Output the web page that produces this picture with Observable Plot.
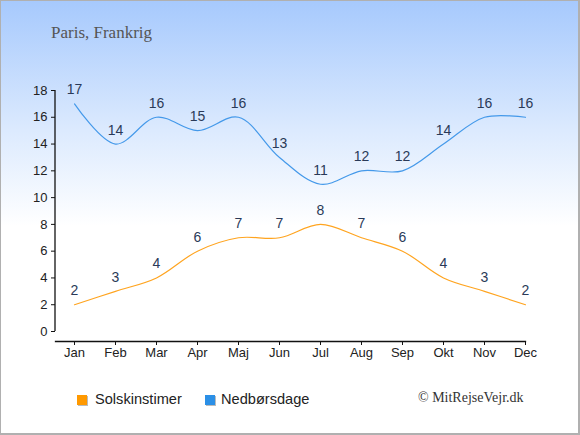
<!DOCTYPE html>
<html>
<head>
<meta charset="utf-8">
<script src="https://cdn.jsdelivr.net/npm/d3@7"></script>
<script src="https://cdn.jsdelivr.net/npm/@observablehq/plot@0.6"></script>
<style>
  html, body { margin: 0; padding: 0; }
  #wrap { position: relative; width: 580px; height: 435px; overflow: hidden;
    background: linear-gradient(to bottom, #a6c9fd 0%, #dceafe 30%, #ffffff 52%, #ffffff 100%);
    font-family: "Liberation Sans", Arial, sans-serif; }
  #border { position: absolute; left: 0; top: 0; width: 580px; height: 435px; box-sizing: border-box;
    border: 1px solid #b0b0b0; border-right-width: 2px; border-bottom-width: 2px; pointer-events: none; }
  #title { position: absolute; left: 51px; top: 23px; font-family: "Liberation Serif", "Times New Roman", serif;
    font-size: 17px; color: #555; white-space: nowrap; }
  #chart { position: absolute; left: 0; top: 0; }
  .leg { position: absolute; top: 389px; font-size: 14.6px; color: #222; white-space: nowrap; line-height: 20px; }
  .sw { display: inline-block; width: 10px; height: 10px; vertical-align: -1px; margin-right: 8px;
    box-shadow: 1px 1px 0 #bbb; }
  #copy { position: absolute; left: 418px; top: 388px; font-family: "Liberation Serif", "Times New Roman", serif;
    font-size: 14px; color: #333; white-space: nowrap; line-height: 20px; }
</style>
</head>
<body>
<div id="wrap">
  <div id="title">Paris, Frankrig</div>
  <div id="chart"></div>
  <div class="leg" id="leg1" style="left:77px"><span class="sw" style="background:#ff9900"></span>Solskinstimer</div>
  <div class="leg" id="leg2" style="left:205px"><span class="sw" style="background:#2b8fe6;margin-right:6px"></span>Nedbørsdage</div>
  <div id="copy">© MitRejseVejr.dk</div>
  <div id="border"></div>
</div>
<script>
const months = ["Jan","Feb","Mar","Apr","Maj","Jun","Jul","Aug","Sep","Okt","Nov","Dec"];
const sunHours = [2,3,4,6,7,7,8,7,6,4,3,2];
const rainDays = [17,14,16,15,16,13,11,12,12,14,16,16];
const yTicks = [0,2,4,6,8,10,12,14,16,18];

const sun = months.map((m, i) => ({month: m, value: sunHours[i]}));
const rain = months.map((m, i) => ({month: m, value: rainDays[i]}));

const yAxisLine = (index, scales, values, dimensions) => {
  const x = dimensions.marginLeft;
  const g = d3.create("svg:line")
    .attr("x1", x).attr("x2", x)
    .attr("y1", scales.y(yTicks[0])).attr("y2", scales.y(yTicks[yTicks.length - 1]))
    .attr("stroke", "#111").attr("stroke-width", 1.3);
  return g.node();
};

const chart = Plot.plot({
  width: 580,
  height: 435,
  marginLeft: 55,
  marginRight: 55,
  marginTop: 90,
  marginBottom: 94,
  style: {background: "transparent", fontFamily: "'Liberation Sans', Arial, sans-serif", fontSize: "13px", color: "#222", overflow: "visible"},
  x: {type: "point", domain: months, range: [74, 525], padding: 0, axis: null},
  y: {domain: [0, 18], range: [331, 90], axis: null},
  marks: [
    Plot.frame({anchor: "bottom", stroke: "#111", strokeWidth: 1.3}),
    yAxisLine,
    Plot.axisY({ticks: yTicks, tickSize: 4, tickPadding: 4, fontSize: 13, stroke: "#111", fill: "#222", label: null, tickFormat: d => d}),
    Plot.axisX({anchor: "bottom", tickSize: 4, tickPadding: 2, fontSize: 13, stroke: "#111", fill: "#222", label: null}),
    Plot.line(sun, {x: "month", y: "value", curve: "catmull-rom", stroke: "#ffa41f", strokeWidth: 1.2}),
    Plot.line(rain, {x: "month", y: "value", curve: "catmull-rom", stroke: "#4499ea", strokeWidth: 1.2}),
    Plot.text(sun, {x: "month", y: "value", text: "value", dy: -14, fontSize: 14, fill: "#2a3a58"}),
    Plot.text(rain, {x: "month", y: "value", text: "value", dy: -14, fontSize: 14, fill: "#2a3a58"})
  ]
});
document.getElementById("chart").appendChild(chart);
</script>
</body>
</html>
